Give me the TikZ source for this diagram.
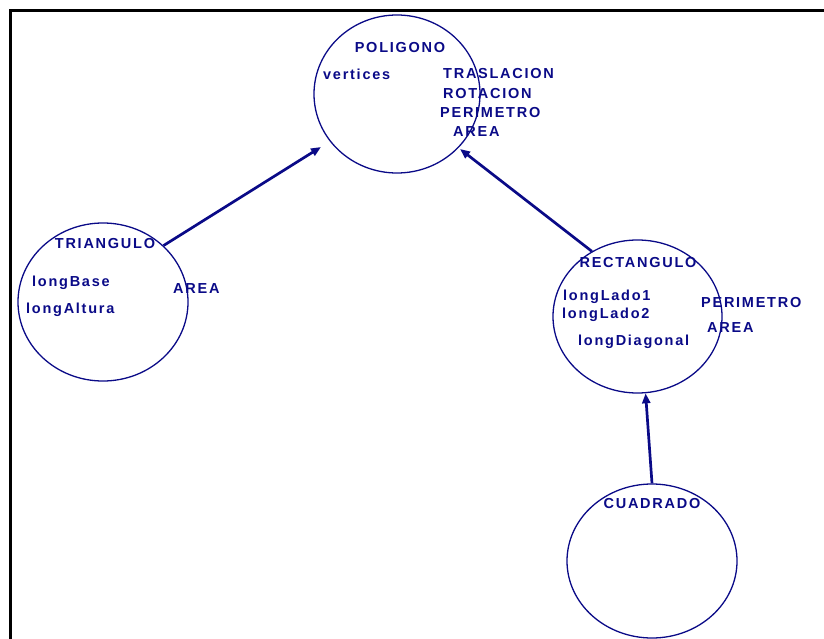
\documentclass[tikz,border=0pt]{standalone}
\usepackage{fontspec}
\setmainfont{Liberation Sans}
\newfontfamily\lblfont{Liberation Sans Bold}[LetterSpace=12]
\usetikzlibrary{shapes.geometric,arrows.meta}
\definecolor{umlnavy}{RGB}{10,10,135}
\tikzset{
  classbubble/.style={ellipse, draw=umlnavy, line width=1.3pt, inner sep=0pt},
  lbl/.style={inner sep=0pt, text=umlnavy, font=\lblfont\fontsize{14.5}{16}\selectfont},
  title/.style={lbl, anchor=base},
  item/.style={lbl, anchor=base west},
  inherit/.style={draw=umlnavy, line width=2.7pt, -{Triangle[length=10pt,width=8pt]}}
}
\begin{document}
\begin{tikzpicture}[x=1pt,y=-1pt]
\useasboundingbox (0,0) rectangle (824,639);
% page frame (top and left edges)
\draw[line width=3pt] (824,11) -- (10,11) -- (10,639);

% classes
\node[classbubble, minimum width=166pt, minimum height=158pt] (poli) at (397,94) {};
\node[classbubble, minimum width=170pt, minimum height=158pt] (tri) at (103,302) {};
\node[classbubble, minimum width=169pt, minimum height=153pt] (rect) at (637.5,316.5) {};
\node[classbubble, minimum width=170pt, minimum height=154pt] (cuad) at (652,561) {};

% POLIGONO
\node[title] (poliT) at (400,53) {POLIGONO};
\node[item] (poliA1) at (323,80) {vertices};
\node[item] (poliM1) at (443,79) {TRASLACION};
\node[item] (poliM2) at (443,99) {ROTACION};
\node[item] (poliM3) at (440,118) {PERIMETRO};
\node[item] (poliM4) at (453,137) {AREA};

% TRIANGULO
\node[title] (triT) at (105,248) {TRIANGULO};
\node[item] (triA1) at (32,286) {longBase};
\node[item] (triA2) at (26,313) {longAltura};
\node[item] (triM1) at (173,293) {AREA};

% RECTANGULO
\node[title] (rectT) at (638,267) {RECTANGULO};
\node[item] (rectA1) at (563,300) {longLado1};
\node[item] (rectA2) at (562,318) {longLado2};
\node[item] (rectA3) at (578,345) {longDiagonal};
\node[item] (rectM1) at (701,307) {PERIMETRO};
\node[item] (rectM2) at (707,332) {AREA};

% CUADRADO
\node[title] (cuadT) at (652,508) {CUADRADO};

% arrow ends
\coordinate (poliIn1) at (321,147);
\coordinate (poliIn2) at (460,149);

% inheritance connectors
\draw[inherit] (tri.43) -- (poliIn1);
\draw[inherit] (rect.125) -- (poliIn2);
\draw[inherit] (cuad.north) -- (rect.-84);
\end{tikzpicture}
\end{document}
